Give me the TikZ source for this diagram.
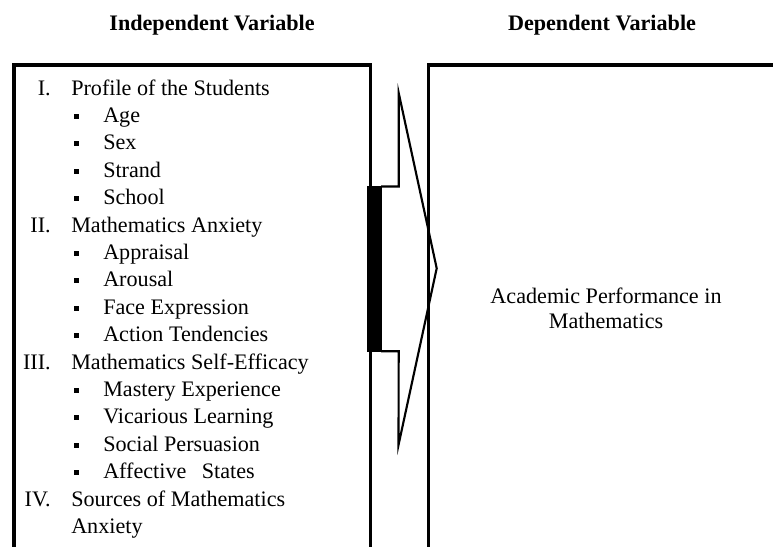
\documentclass[tikz,border=0pt]{standalone}
\usepackage{fontspec}
\setmainfont{Liberation Serif}
\begin{document}
\begin{tikzpicture}[x=0.75pt,y=-0.75pt,
  txt/.style={inner sep=0pt,font=\rmfamily\fontsize{16.6}{20}\selectfont},
  head/.style={inner sep=0pt,font=\rmfamily\bfseries\fontsize{16.6}{20}\selectfont},
  num/.style={txt,anchor=base east},
  item/.style={txt,anchor=base west},
  bul/.style={fill=black,minimum size=3.8pt,inner sep=0pt,outer sep=0pt},
  frame/.style={line width=2.3pt},
  arr/.style={line width=1.6pt,line join=miter}]
\useasboundingbox (0,0) rectangle (773,546);
\fill[white] (0,0) rectangle (773,546);

% column headings
\node[head,anchor=base] (indep) at (212,30) {Independent Variable};
\node[head,anchor=base] (dep) at (602,30) {Dependent Variable};

% open-bottomed frames
\draw[frame] (14,547) -- (14,65) -- (370.3,65) -- (370.3,547);
\draw[frame] (428.7,547) -- (428.7,65) -- (775,65);

% block arrow from the left frame to the right frame
\draw[arr] (381,186.5) -- (398.7,186.5) -- (398.7,93) -- (436.7,268.3)
  -- (398.5,445) -- (398.7,351.2) -- (381,351.2);
\fill (367,185.5) rectangle (381.5,352.2);

% independent variables
\node[num] (n1) at (51,95) {I.};
\node[item] (t1) at (71,95) {Profile of the Students};
\node[bul] (b1) at (76.5,116.4) {};
\node[item] (t2) at (103,122.4) {Age};
\node[bul] (b2) at (76.5,143.8) {};
\node[item] (t3) at (103,149.8) {Sex};
\node[bul] (b3) at (76.5,171.2) {};
\node[item] (t4) at (103,177.2) {Strand};
\node[bul] (b4) at (76.5,198.6) {};
\node[item] (t5) at (103,204.6) {School};
\node[num] (n2) at (51,232) {II.};
\node[item] (t6) at (71,232) {Mathematics Anxiety};
\node[bul] (b5) at (76.5,253.4) {};
\node[item] (t7) at (103,259.4) {Appraisal};
\node[bul] (b6) at (76.5,280.8) {};
\node[item] (t8) at (103,286.8) {Arousal};
\node[bul] (b7) at (76.5,308.2) {};
\node[item] (t9) at (103,314.2) {Face Expression};
\node[bul] (b8) at (76.5,335.6) {};
\node[item] (t10) at (103,341.6) {Action Tendencies};
\node[num] (n3) at (51,369) {III.};
\node[item] (t11) at (71,369) {Mathematics Self-Efficacy};
\node[bul] (b9) at (76.5,390.4) {};
\node[item] (t12) at (103,396.4) {Mastery Experience};
\node[bul] (b10) at (76.5,417.8) {};
\node[item] (t13) at (103,423.8) {Vicarious Learning};
\node[bul] (b11) at (76.5,445.2) {};
\node[item] (t14) at (103,451.2) {Social Persuasion};
\node[bul] (b12) at (76.5,472.6) {};
\node[item] (t15) at (103,478.6) {Affective\hspace{0.7em}States};
\node[num] (n4) at (51,506) {IV.};
\node[item] (t16) at (71,506) {Sources of Mathematics};
\node[item] (t17) at (71,533.4) {Anxiety};

% dependent variable
\node[txt,anchor=base] (perf1) at (606,303) {Academic Performance in};
\node[txt,anchor=base] (perf2) at (606,328) {Mathematics};
\end{tikzpicture}
\end{document}
